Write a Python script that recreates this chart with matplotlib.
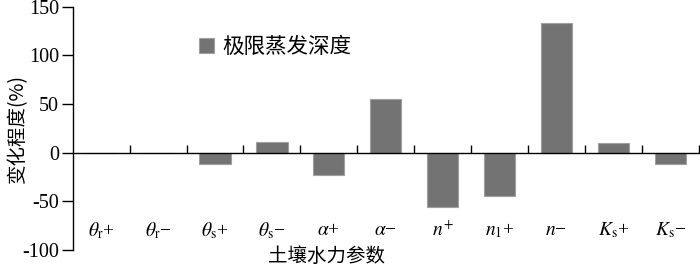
import matplotlib
matplotlib.use("Agg")
import matplotlib.pyplot as plt
import numpy as np

plt.rcParams['font.family'] = ['Liberation Serif', 'Noto Sans CJK SC']
plt.rcParams['mathtext.fontset'] = 'stix'
plt.rcParams['axes.unicode_minus'] = False

categories = [r'$\theta_{\rm r}$+', r'$\theta_{\rm r}$−', r'$\theta_{\rm s}$+', r'$\theta_{\rm s}$−',
              r'$\alpha$+', r'$\alpha$−', r'$n^{+}$', r'$n_{1}$+', r'$n$−',
              r'$K_{\rm s}$+', r'$K_{\rm s}$−']
values = [0, 0, -12, 11, -23, 55, -56, -44, 133, 10, -12]
yticks = [-100, -50, 0, 50, 100, 150]
series_name = '极限蒸发深度'

fig = plt.figure(figsize=(7.0, 2.66), dpi=100)
ax = fig.add_axes([0.104, 0.06, 0.894, 0.915])

x = np.arange(len(categories))
ax.bar(x, values, width=0.55, color='#737373', edgecolor='#a0a0a0', linewidth=0.8,
       label=series_name, zorder=2)

ax.set_xlim(-0.5, len(categories) - 0.5)
ax.set_ylim(-100, 150)
ax.set_yticks(yticks)
ax.set_yticklabels([str(v) for v in yticks], fontsize=14.5)

for s in ['top', 'right']:
    ax.spines[s].set_visible(False)
ax.spines['bottom'].set_position(('data', 0))
ax.spines['left'].set_linewidth(1.0)
ax.spines['bottom'].set_linewidth(1.0)
ax.spines['bottom'].set_zorder(3)

ax.set_xticks(np.arange(len(categories)) + 0.5)
ax.set_xticklabels([])
ax.tick_params(axis='x', direction='in', length=6, width=1.0)
ax.tick_params(axis='y', direction='out', length=8, width=1.0, pad=2)

for xi, lab in zip(x, categories):
    ax.text(xi, -80, lab, ha='center', va='center', fontsize=14)

ax.set_ylabel('变化程度(%)', fontsize=14, family=['Noto Sans CJK SC', 'Liberation Serif'])
ax.yaxis.set_label_coords(-0.071, 0.5)
fig.text(0.466, 0.035, '土壤水力参数', ha='center', va='center', fontsize=14,
         family=['Noto Sans CJK SC'])

leg = ax.legend(loc='upper left', bbox_to_anchor=(0.17, 0.96), frameon=False,
                prop={'family': ['Noto Sans CJK SC'], 'size': 15.5},
                handlelength=0.7, handleheight=0.7, handletextpad=0.4)

fig.savefig('out.png', dpi=100)
